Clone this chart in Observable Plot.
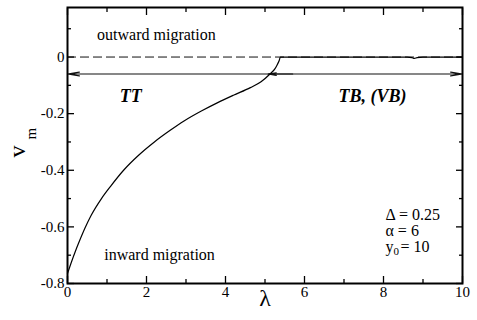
<!DOCTYPE html>
<html>
<head>
<meta charset="utf-8">
<script src="https://cdn.jsdelivr.net/npm/d3@7"></script>
<script src="https://cdn.jsdelivr.net/npm/@observablehq/plot@0.6"></script>
<style>
  html, body { margin: 0; padding: 0; background: white; }
  svg, svg text { font-family: "Liberation Serif", "Times New Roman", serif !important; }
</style>
</head>
<body>
<div id="chart"></div>
<script>
// Curve data: migration velocity v_m vs lambda
const lambda = [0, 0.1, 0.2, 0.3, 0.44, 0.6, 0.86, 1.1, 1.42, 1.8, 2.2, 2.6, 2.95, 3.4, 3.79, 4.2, 4.63, 4.9, 5.14, 5.25, 5.31, 5.36, 5.39, 5.5, 6, 7, 8, 8.6, 8.72, 8.78, 8.85, 9, 10];
const vm = [-0.765, -0.724, -0.686, -0.651, -0.605, -0.559, -0.50, -0.455, -0.40, -0.347, -0.30, -0.259, -0.226, -0.19, -0.162, -0.135, -0.108, -0.087, -0.058, -0.042, -0.027, -0.012, 0, 0, 0, 0, 0, 0, -0.002, -0.005, -0.002, 0, 0];

// Ticks
const xMajor = [0, 2, 4, 6, 8, 10];
const xMinor = [1, 3, 5, 7, 9];
const yMajor = [-0.8, -0.6, -0.4, -0.2, 0];
const yMinor = [-0.7, -0.5, -0.3, -0.1, 0.1];

// Regime boundary arrows at v = -0.06
const arrowFrom = [5.1, 5.1, 5.7];
const arrowTo = [0, 10, 5.08];
const arrowLevel = -0.06;

// Annotations
const regionLabels = ["outward migration", "inward migration"];
const regionX = [2.25, 2.33];
const regionY = [0.078, -0.698];
const regimeLabels = ["TT", "TB, (VB)"];
const regimeX = [1.6, 7.72];
const regimeY = [-0.138, -0.138];
const paramLabels = ["Δ = 0.25", "α = 6"];
const paramY = [-0.557, -0.614];
const paramX = 8.05;
const y0Y = -0.670;

const FONT = "Liberation Serif";
const curve = lambda.map((x, i) => ({x, y: vm[i]}));
const arrows = arrowFrom.map((x1, i) => ({x1, x2: arrowTo[i], y: arrowLevel}));

const plot = Plot.plot({
  width: 477,
  height: 320,
  marginLeft: 67,
  marginRight: 15,
  marginTop: 7,
  marginBottom: 37,
  style: "font-family: 'Liberation Serif', serif; font-size: 15px; background: white; color: black;",
  x: {domain: [0, 10]},
  y: {domain: [-0.8, 0.175]},
  marks: [
    // inward ticks on all four sides
    Plot.axisX(xMajor, {anchor: "bottom", tickSize: -7, tickFormat: () => "", label: null, strokeWidth: 1.3}),
    Plot.axisX(xMinor, {anchor: "bottom", tickSize: -4, tickFormat: () => "", label: null, strokeWidth: 1.3}),
    Plot.axisX(xMajor, {anchor: "top", tickSize: -7, tickFormat: () => "", label: null, strokeWidth: 1.3}),
    Plot.axisX(xMinor, {anchor: "top", tickSize: -4, tickFormat: () => "", label: null, strokeWidth: 1.3}),
    Plot.axisY(yMajor, {anchor: "left", tickSize: -7, tickFormat: () => "", label: null, strokeWidth: 1.3}),
    Plot.axisY(yMinor, {anchor: "left", tickSize: -4, tickFormat: () => "", label: null, strokeWidth: 1.3}),
    Plot.axisY(yMajor, {anchor: "right", tickSize: -7, tickFormat: () => "", label: null, strokeWidth: 1.3}),
    Plot.axisY(yMinor, {anchor: "right", tickSize: -4, tickFormat: () => "", label: null, strokeWidth: 1.3}),
    // tick labels
    Plot.axisX(xMajor, {anchor: "bottom", tickSize: 0, tickPadding: 3, label: null, fontSize: 15, fontFamily: FONT, tickFormat: d => String(d)}),
    Plot.axisY(yMajor, {anchor: "left", tickSize: 0, tickPadding: 3, label: null, fontSize: 15, fontFamily: FONT, tickFormat: d => String(d)}),
    // zero line (dashed)
    Plot.ruleY([0], {stroke: "#111", strokeWidth: 1, strokeDasharray: "9,4"}),
    // regime arrows
    Plot.arrow(arrows, {x1: "x1", x2: "x2", y1: "y", y2: "y", stroke: "#111", strokeWidth: 1.2, headLength: 15, headAngle: 18}),
    // curve
    Plot.line(curve, {x: "x", y: "y", stroke: "black", strokeWidth: 1.2, curve: "monotone-x"}),
    // annotations
    Plot.text(regionLabels, {x: (d, i) => regionX[i], y: (d, i) => regionY[i], text: d => d, fontSize: 16, fontFamily: FONT}),
    Plot.text(regimeLabels, {x: (d, i) => regimeX[i], y: (d, i) => regimeY[i], text: d => d, fontSize: 18, fontWeight: "bold", fontStyle: "italic", fontFamily: FONT}),
    Plot.text(paramLabels, {x: paramX, y: (d, i) => paramY[i], text: d => d, fontSize: 16, textAnchor: "start", fontFamily: FONT}),
    Plot.text(["y"], {x: paramX, y: y0Y, text: d => d, fontSize: 16, textAnchor: "start", fontFamily: FONT}),
    Plot.text(["0"], {x: paramX, y: y0Y, text: d => d, fontSize: 11, textAnchor: "start", dx: 8, dy: 5, fontFamily: FONT}),
    Plot.text(["= 10"], {x: paramX, y: y0Y, text: d => d, fontSize: 16, textAnchor: "start", dx: 15, fontFamily: FONT}),
    // axis labels
    Plot.text(["λ"], {x: 5, frameAnchor: "bottom", text: d => d, fontSize: 24, dy: 22, fontFamily: FONT}),
    Plot.text(["v"], {frameAnchor: "left", text: d => d, fontSize: 24, rotate: -90, dx: -50, dy: 12, fontFamily: FONT}),
    Plot.text(["m"], {frameAnchor: "left", text: d => d, fontSize: 15, rotate: -90, dx: -36, dy: -6, fontFamily: FONT}),
    // frame
    Plot.frame({stroke: "black", strokeWidth: 2})
  ]
});
document.getElementById("chart").appendChild(plot);
</script>
</body>
</html>
